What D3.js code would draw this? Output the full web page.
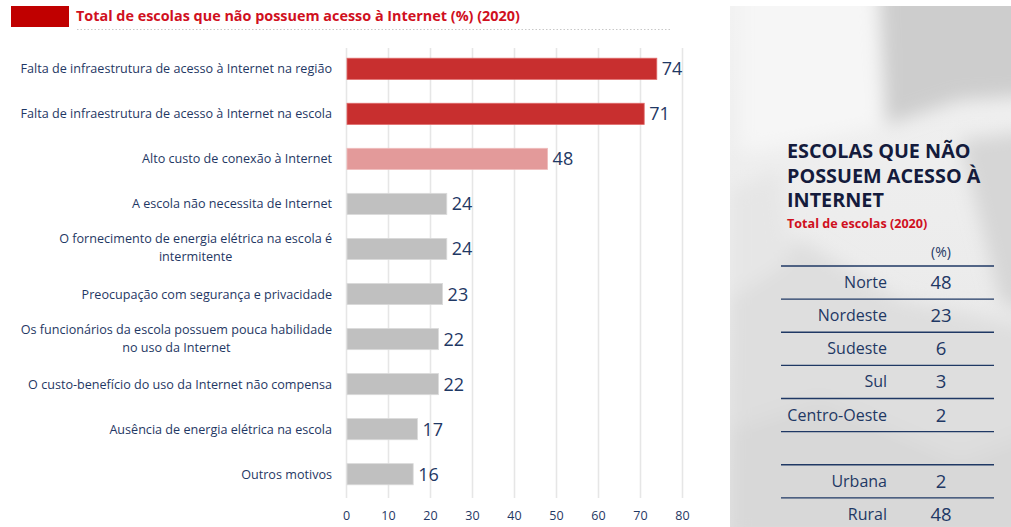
<!DOCTYPE html>
<html>
<head>
<meta charset="utf-8">
<script src="https://cdn.jsdelivr.net/npm/d3@7/dist/d3.min.js"></script>
<style>
  html, body { margin: 0; padding: 0; background: #fff; }
  svg { display: block; }
</style>
</head>
<body>
<div id="chart"></div>
<script>
// ---------- data ----------
const categories = [
  "Falta de infraestrutura de acesso à Internet na região",
  "Falta de infraestrutura de acesso à Internet na escola",
  "Alto custo de conexão à Internet",
  "A escola não necessita de Internet",
  "O fornecimento de energia elétrica na escola é|intermitente",
  "Preocupação com segurança e privacidade",
  "Os funcionários da escola possuem pouca habilidade|no uso da Internet",
  "O custo-benefício do uso da Internet não compensa",
  "Ausência de energia elétrica na escola",
  "Outros motivos"
];
const values = [74, 71, 48, 24, 24, 23, 22, 22, 17, 16];
const xTicks = [0, 10, 20, 30, 40, 50, 60, 70, 80];
const legendLabel = "Total de escolas que não possuem acesso à Internet (%) (2020)";

const panelTitle = ["ESCOLAS QUE NÃO", "POSSUEM ACESSO À", "INTERNET"];
const panelSubtitle = "Total de escolas (2020)";
const panelUnit = "(%)";
const regions = ["Norte", "Nordeste", "Sudeste", "Sul", "Centro-Oeste", "", "Urbana", "Rural"];
const regionValues = [48, 23, 6, 3, 2, null, 2, 48];

// ---------- layout ----------
const W = 1011, H = 527;
const NAVY = "#1f3864";
const font = "'Open Sans', sans-serif";

const svg = d3.select("#chart").append("svg")
  .attr("width", W).attr("height", H)
  .style("font-family", font);

const defs = svg.append("defs");

// legend
svg.append("rect").attr("x", 11).attr("y", 6).attr("width", 58).attr("height", 21)
  .attr("fill", "#c00000");
svg.append("text").attr("x", 76).attr("y", 21)
  .attr("font-size", 14.4).attr("font-weight", "bold").attr("fill", "#d0101e")
  .text(legendLabel);
svg.append("line").attr("x1", 77).attr("x2", 672).attr("y1", 29.5).attr("y2", 29.5)
  .attr("stroke", "#c8c8c8").attr("stroke-width", 1).attr("stroke-dasharray", "1.5,2");

// scales
const x = d3.scaleLinear().domain([0, 80]).range([346, 682]);
const y = d3.scaleBand().domain(d3.range(categories.length)).range([46.5, 496.5]).paddingInner(0.53).paddingOuter(0.26);

const fillFor = i => i < 2 ? "#c82f2f" : (i === 2 ? "#e39a9a" : "#c0c0c0");
const strokeFor = i => i < 2 ? "#e06a6a" : (i === 2 ? "#efbcbc" : "#dadada");

// gridlines via axis
const gx = svg.append("g").attr("transform", "translate(0,498)")
  .call(d3.axisBottom(x).tickValues(xTicks).tickSize(-450).tickFormat(d3.format("d")).tickPadding(13));
gx.select(".domain").remove();
gx.selectAll(".tick line").attr("stroke", "#e6e6e6").attr("stroke-width", 1.6);
gx.selectAll(".tick text").attr("font-size", 12.5).attr("fill", NAVY).attr("font-family", font);

// bars
svg.append("g").selectAll("rect").data(values).join("rect")
  .attr("x", x(0) + 1)
  .attr("y", (d, i) => y(i))
  .attr("width", d => x(d) - x(0) - 1)
  .attr("height", y.bandwidth())
  .attr("fill", (d, i) => fillFor(i))
  .attr("stroke", (d, i) => strokeFor(i))
  .attr("stroke-width", 0.8);

// value labels
svg.append("g").selectAll("text").data(values).join("text")
  .attr("x", d => x(d) + 5)
  .attr("y", (d, i) => y(i) + y.bandwidth() / 2 + 6.5)
  .attr("font-size", 18)
  .attr("fill", NAVY)
  .text(d => d);

// category labels
const labelRight = 332;
const lab = svg.append("g");
categories.forEach((c, i) => {
  const lines = c.split("|");
  const cy = y(i) + y.bandwidth() / 2;
  const lh = 18;
  const t = lab.append("text").attr("font-size", 12.6).attr("fill", NAVY);
  lines.forEach((ln, j) => {
    t.append("tspan").text(ln)
      .attr("y", cy + 4.5 + (j - (lines.length - 1) / 2) * lh - (lines.length > 1 ? 1 : 0));
  });
  if (lines.length === 1) {
    t.attr("text-anchor", "end").selectAll("tspan").attr("x", labelRight);
  } else {
    let maxW = 0;
    t.selectAll("tspan").each(function () { maxW = Math.max(maxW, this.getComputedTextLength()); });
    t.attr("text-anchor", "middle").selectAll("tspan").attr("x", labelRight - maxW / 2);
  }
});

// ---------- right panel ----------
const px = 730, py = 6, pw = W - 730, ph = H - 6;
const clip = defs.append("clipPath").attr("id", "pclip");
clip.append("rect").attr("x", px).attr("y", py).attr("width", pw).attr("height", ph);
const blur = defs.append("filter").attr("id", "blur").attr("x", "-20%").attr("y", "-20%").attr("width", "140%").attr("height", "140%");
blur.append("feGaussianBlur").attr("stdDeviation", 9);
const grad = defs.append("linearGradient").attr("id", "pgrad").attr("x1", 0).attr("y1", 0).attr("x2", 0).attr("y2", 1);
grad.append("stop").attr("offset", 0).attr("stop-color", "#f1f1f1");
grad.append("stop").attr("offset", 0.5).attr("stop-color", "#ececec");
grad.append("stop").attr("offset", 1).attr("stop-color", "#e2e2e2");

const pg = svg.append("g").attr("clip-path", "url(#pclip)");
pg.append("rect").attr("x", px).attr("y", py).attr("width", pw).attr("height", ph).attr("fill", "url(#pgrad)");
const bg = pg.append("g").attr("filter", "url(#blur)");
bg.append("polygon").attr("points", "878,-20 1040,-20 1040,95 960,100 885,125").attr("fill", "#cdcdcd");
bg.append("polygon").attr("points", "740,-20 875,-20 885,125 760,150 740,150").attr("fill", "#f6f6f6");
bg.append("polygon").attr("points", "960,140 1040,130 1040,320 1000,300").attr("fill", "#d6d6d6");
bg.append("polygon").attr("points", "730,280 800,240 900,300 1040,330 1040,540 730,540").attr("fill", "#dedede");
bg.append("polygon").attr("points", "730,430 820,400 960,460 1040,430 1040,540 730,540").attr("fill", "#d8d8d8");
bg.append("polygon").attr("points", "730,190 780,170 790,260 730,300").attr("fill", "#e6e6e6");

// panel title
const tg = svg.append("g");
panelTitle.forEach((t, i) => {
  tg.append("text").attr("x", 787).attr("y", 158 + i * 24.5)
    .attr("font-size", 19.8).attr("font-weight", "bold").attr("fill", "#141b3c")
    .text(t);
});
tg.append("text").attr("x", 787).attr("y", 228)
  .attr("font-size", 12.6).attr("font-weight", "bold").attr("fill", "#d0101e")
  .text(panelSubtitle);
tg.append("text").attr("x", 941).attr("y", 257).attr("text-anchor", "middle")
  .attr("font-size", 14).attr("fill", NAVY).text(panelUnit);

// table
const rowY = d3.scaleBand().domain(d3.range(regions.length)).range([266, 531]);
svg.append("g").selectAll("line").data(d3.range(regions.length)).join("line")
  .attr("x1", 781).attr("x2", 994)
  .attr("y1", i => rowY(i)).attr("y2", i => rowY(i))
  .attr("stroke", "#1f3864").attr("stroke-width", 1.4);
svg.append("g").selectAll("text").data(regions).join("text")
  .attr("x", 887).attr("y", (d, i) => rowY(i) + rowY.bandwidth() / 2 + 5.5)
  .attr("text-anchor", "end").attr("font-size", 16).attr("fill", NAVY)
  .text(d => d);
svg.append("g").selectAll("text").data(regionValues).join("text")
  .attr("x", 941).attr("y", (d, i) => rowY(i) + rowY.bandwidth() / 2 + 6.5)
  .attr("text-anchor", "middle").attr("font-size", 18.5).attr("fill", NAVY)
  .text(d => d === null ? "" : d);
</script>
</body>
</html>
